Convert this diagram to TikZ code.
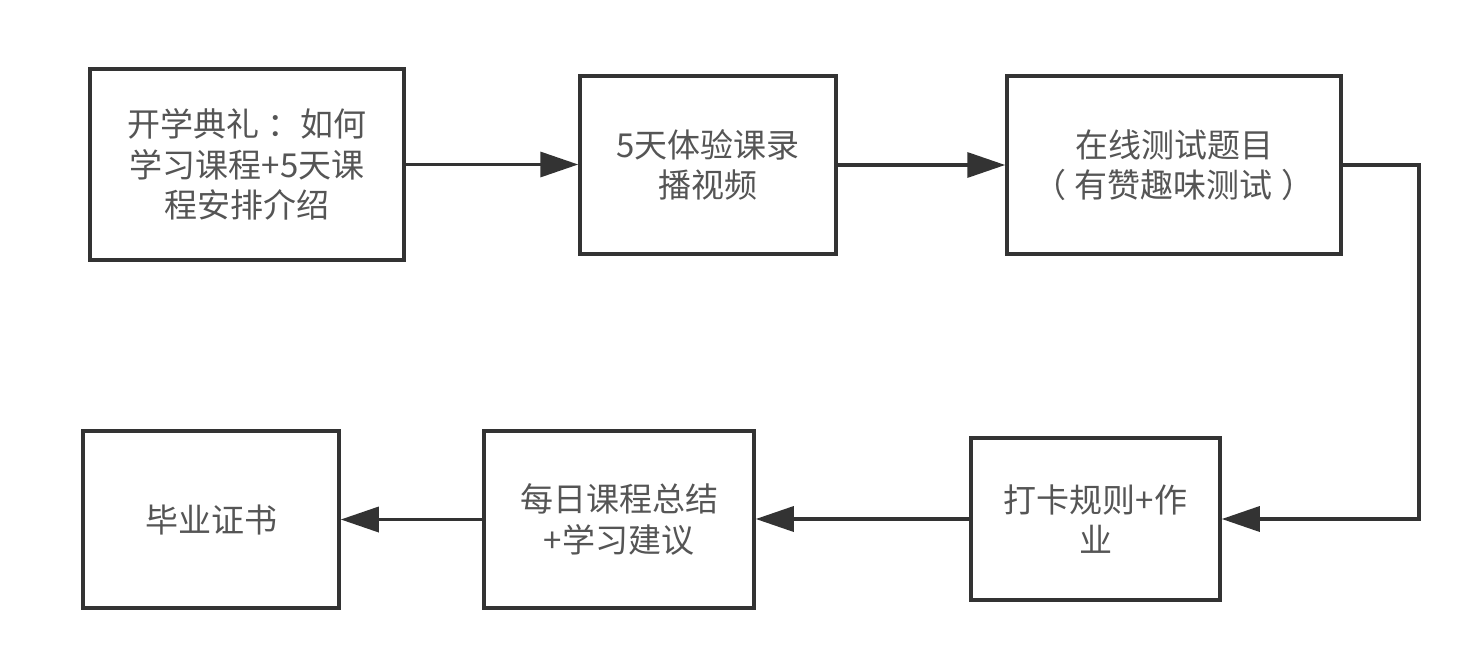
\documentclass[tikz,border=0pt]{standalone}
\usepackage{fontspec}
\setmainfont{Noto Sans CJK SC}
\usetikzlibrary{arrows.meta}
\definecolor{linec}{HTML}{333333}
\definecolor{textc}{HTML}{555555}
\tikzset{
  stepbox/.style={draw=linec, line width=3.5pt, fill=white, align=center, text=textc,
    font=\fontsize{33}{40.5}\selectfont, inner sep=0pt},
  arr/.style={draw=linec, line width=3.5pt, -{Triangle[length=38pt,width=25pt]}}
}
\begin{document}
\begin{tikzpicture}[x=1pt,y=-1pt]
\useasboundingbox[fill=white] (0,0) rectangle (1481,667);
\node[stepbox, minimum width=314pt, minimum height=191pt] (n1) at (247,164.5) {开学典礼\hspace{8pt}：如何\\学习课程+5天课\\程安排介绍};
\node[stepbox, minimum width=256pt, minimum height=178pt] (n2) at (708,165) {5天体验课录\\播视频};
\node[stepbox, minimum width=334pt, minimum height=178pt] (n3) at (1174,165) {在线测试题目\\（\hspace{9pt}有赞趣味测试\hspace{9pt}）};
\node[stepbox, minimum width=249pt, minimum height=162pt] (n4) at (1095.5,519) {打卡规则+作\\业};
\node[stepbox, minimum width=270pt, minimum height=177pt] (n5) at (619,519.5) {每日课程总结\\+学习建议};
\node[stepbox, minimum width=256pt, minimum height=177pt] (n6) at (211,519.5) {毕业证书};
\draw[arr] (n1.east) -- (n1.east -| n2.west);
\draw[arr] (n2.east) -- (n3.west);
\draw[arr, line join=miter] (n3.east) -- ++(76,0) |- (n4.east);
\draw[arr] (n4.west) -- (n4.west -| n5.east);
\draw[arr] (n5.west) -- (n5.west -| n6.east);
\end{tikzpicture}
\end{document}
